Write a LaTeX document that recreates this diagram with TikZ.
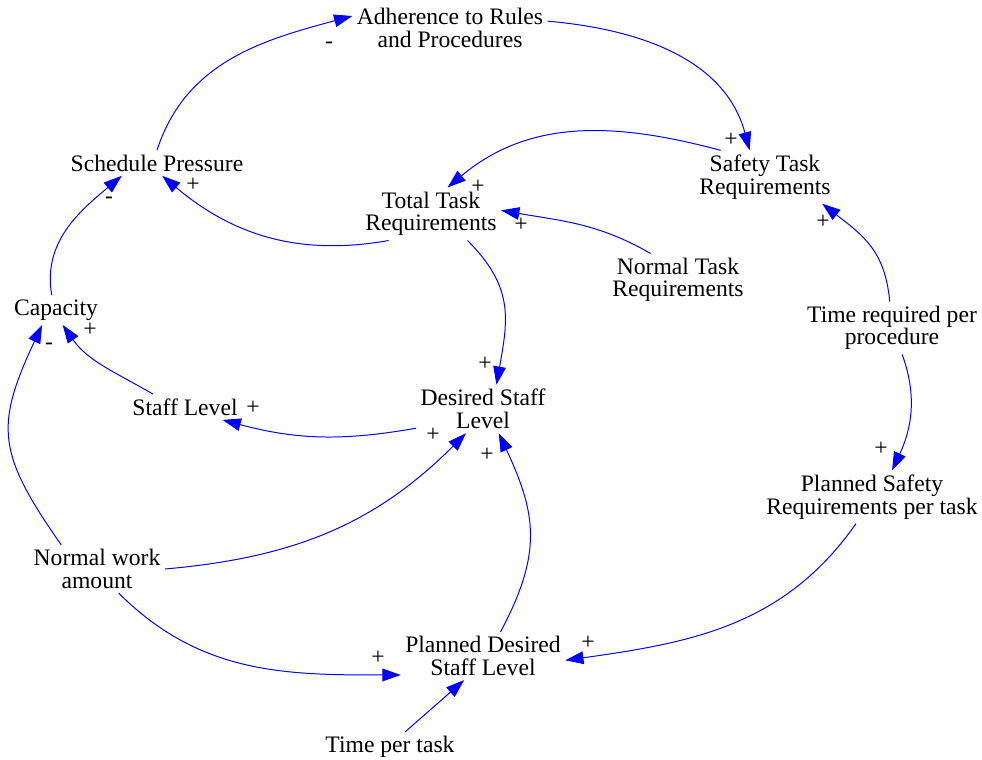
\documentclass[tikz,border=0pt]{standalone}
\usepackage{fontspec}
\setmainfont{Liberation Serif}
\usetikzlibrary{arrows.meta}

\begin{document}
\begin{tikzpicture}[
        x=0.025cm, y=0.025cm,
        var/.style={align=center, inner sep=3pt, font=\fontsize{16.8}{16.1}\selectfont},
        pol/.style={inner sep=0pt, font=\fontsize{16.8}{16.1}\selectfont},
        link/.style={-{Triangle[length=13pt, width=9pt]}, blue, line width=0.7pt}
    ]
    \useasboundingbox (0,0) rectangle (982,-760);

    % --- Variables ---
    \node[var] (adh) at (450,-28) {Adherence to Rules\\and Procedures};
    \node[var] (sched) at (157,-163) {Schedule Pressure};
    \node[var] (safety) at (765,-177) {Safety Task\\Requirements};
    \node[var] (total) at (431,-214) {Total Task\\Requirements};
    \node[var] (normal) at (678,-280) {Normal Task\\Requirements};
    \node[var] (capacity) at (56,-310) {Capacity};
    \node[var] (timeproc) at (892,-328) {Time required per\\procedure};
    \node[var] (staff) at (185,-407) {Staff Level};
    \node[var] (desired) at (483,-409) {Desired Staff\\Level};
    \node[var] (plansafe) at (872,-497) {Planned Safety\\Requirements per task};
    \node[var] (normwork) at (97,-569) {Normal work\\amount};
    \node[var] (planned) at (483,-656) {Planned Desired\\Staff Level};
    \node[var] (timetask) at (390,-747) {Time per task};

    % --- Causal links ---
    \draw[link] (sched.north) to[out=72, in=195] (adh.173);
    \draw[link] (adh.4) to[out=-5, in=105] (safety.120);
    \draw[link] (safety.149) to[out=165, in=40] (total.58);
    \draw[link] (total.212) to[out=190, in=-40] (sched.292);
    \draw[link] (normal.136) to[out=150, in=-10] (total.3);
    \draw[link] (total.324) to[out=-45, in=80, looseness=1.15] (desired.61);
    \draw[link] (capacity.106) to[out=100, in=220] (sched.200);
    \draw[link] (staff.158) to[out=150, in=-55] (capacity.294);
    \draw[link] (desired.196) to[out=190, in=-15] (staff.341);
    \draw[link] (normwork.146) to[out=125, in=245, looseness=1.3] (capacity.227);
    \draw[link] (normwork.east) to[out=5, in=225] (desired.235);
    \draw[link] (planned.54) to[out=62, in=-65, looseness=1.15] (desired.303);
    \draw[link] (normwork.312) to[out=-45, in=180] (planned.193);
    \draw[link] (timetask.45) -- (planned.232);
    \draw[link] (timeproc.95) to[out=95, in=-38, looseness=1.1] (safety.335);
    \draw[link] (timeproc.291) to[out=-70, in=65] (plansafe.53);
    \draw[link] (plansafe.239) to[out=235, in=8] (planned.357);

    % --- Polarities ---
    \node[pol] (p1) at (329,-45) {-};
    \node[pol] (p2) at (731,-140) {+};
    \node[pol] (p3) at (478,-187) {+};
    \node[pol] (p4) at (193,-185) {+};
    \node[pol] (p5) at (521,-225) {+};
    \node[pol] (p6) at (485,-364) {+};
    \node[pol] (p7) at (109,-200) {-};
    \node[pol] (p8) at (90,-330) {+};
    \node[pol] (p9) at (253,-408) {+};
    \node[pol] (p10) at (49,-346) {-};
    \node[pol] (p11) at (433,-435) {+};
    \node[pol] (p12) at (487,-455) {+};
    \node[pol] (p13) at (378,-658) {+};
    \node[pol] (p15) at (823,-222) {+};
    \node[pol] (p16) at (881,-449) {+};
    \node[pol] (p17) at (588,-643) {+};
\end{tikzpicture}
\end{document}
